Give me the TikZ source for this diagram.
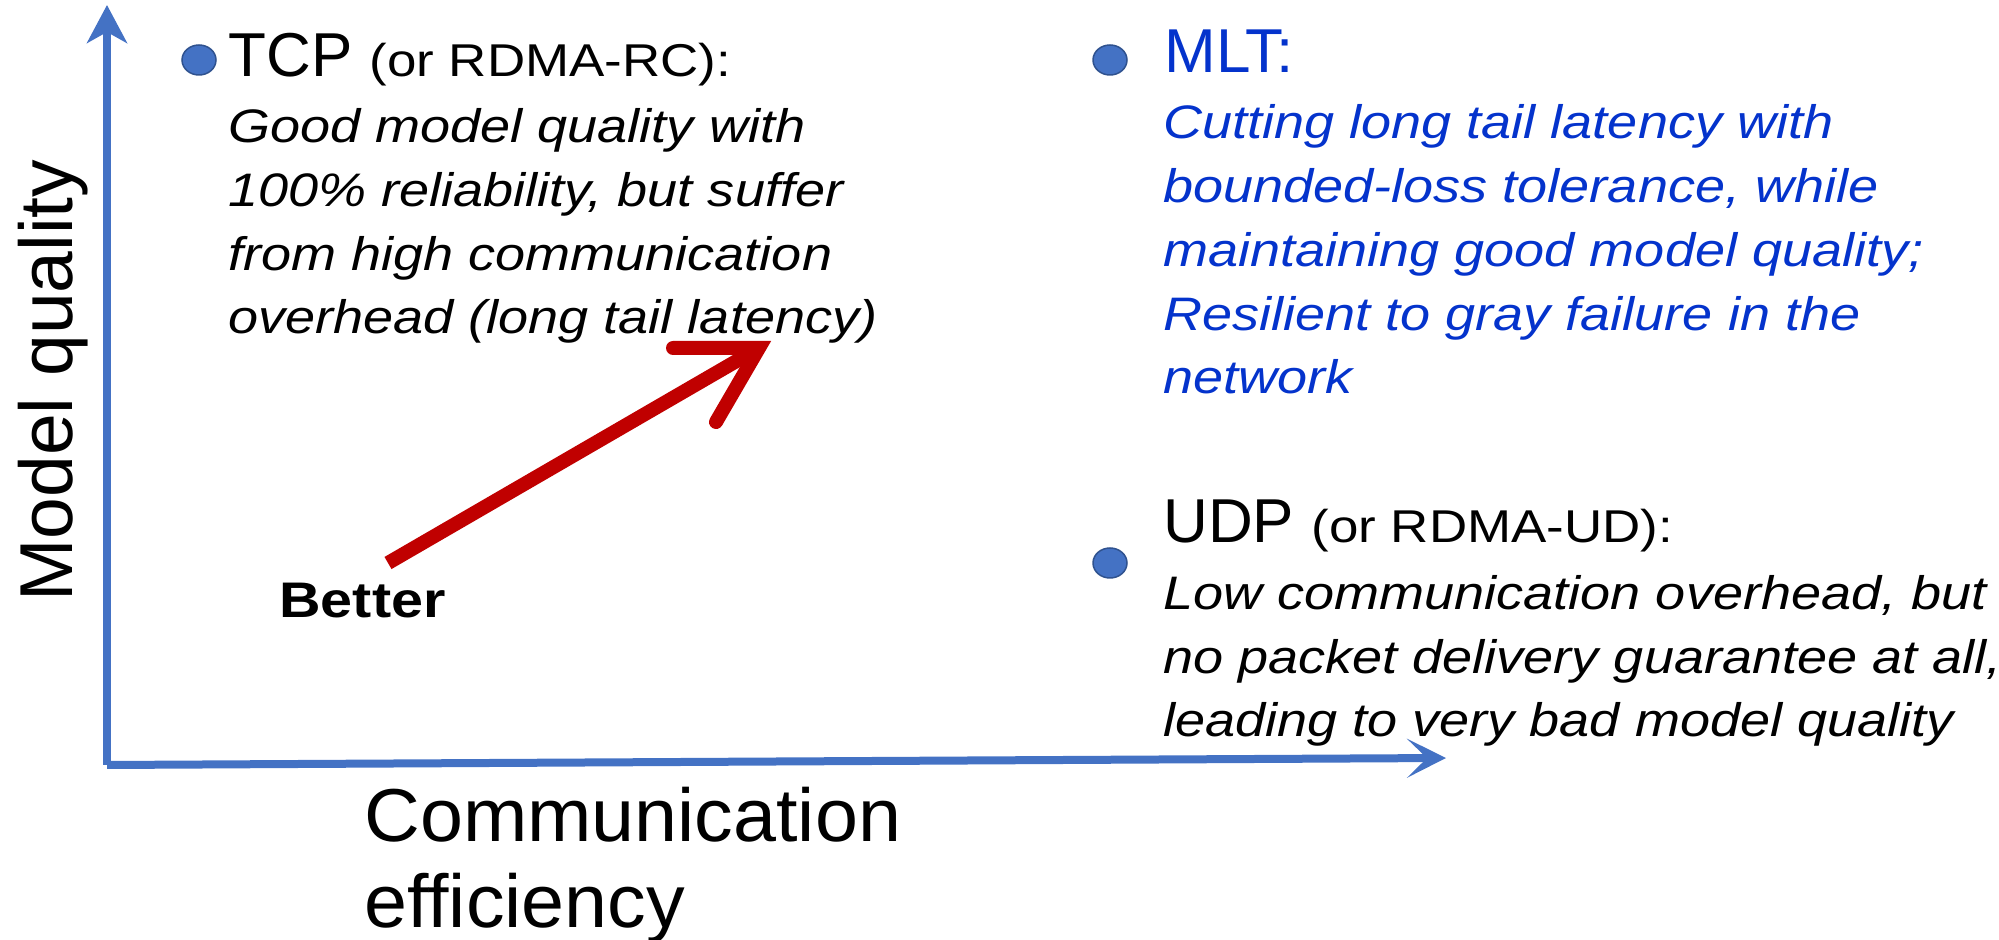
\documentclass[tikz,border=0pt]{standalone}
\usepackage{fontspec}
\setmainfont{Liberation Sans}
\newfontfamily\wideit[FakeStretch=1.15]{Liberation Sans}
\newfontfamily\labfont[FakeStretch=1.03,Ligatures=NoCommon]{Liberation Sans}
\usetikzlibrary{arrows.meta,shapes.geometric}
\definecolor{axisblue}{HTML}{4472C4}
\definecolor{bulletedge}{HTML}{2F528F}
\definecolor{mltblue}{HTML}{0433CC}
\definecolor{arrred}{HTML}{C00000}
\newcommand{\subf}{\wideit\fontsize{23pt}{27pt}\selectfont}
\begin{document}
\begin{tikzpicture}[x=0.5pt,y=-0.5pt,
  axis/.style={line width=4pt, draw=axisblue},
  bulletdot/.style={ellipse, minimum width=17pt, minimum height=15pt, inner sep=0pt,
    fill=axisblue, draw=bulletedge, line width=0.75pt},
  hdr/.style={inner sep=0pt, anchor=base west, font=\fontsize{31pt}{37pt}\selectfont},
  body/.style={inner sep=0pt, anchor=base west, align=left,
    font=\wideit\itshape\fontsize{23.5pt}{31.9pt}\selectfont},
  axlabel/.style={inner sep=0pt, anchor=base west, align=left,
    font=\fontsize{37.5pt}{43.5pt}\selectfont},
  redarrow/.style={line width=7pt, draw=arrred}]
\useasboundingbox (0,0) rectangle (1999,940);

% axes
\coordinate (O) at (107,765);
\coordinate (ytip) at (107,5);
\coordinate (xtip) at (1446,758);
\draw[axis, -{Stealth[length=19pt,width=20pt,inset=5.5pt]}] (O) -- (ytip);
\draw[axis, -{Stealth[length=19.5pt,width=19.5pt,inset=10pt]}] (O) -- (xtip);

% axis labels (multi-line nodes: base = last line)
\node[axlabel, rotate=90] (ylab) at (72,602) {Model quality};
\node[axlabel, font=\labfont\fontsize{37.5pt}{43.5pt}\selectfont] (xlab) at (364,928) {Communication\\efficiency};

% bullets
\node[bulletdot] (b1) at (199,60) {};
\node[bulletdot] (b2) at (1110,60) {};
\node[bulletdot] (b3) at (1110,563) {};

% TCP
\node[hdr] (tcp) at (228,77) {TCP {\subf(or RDMA-RC):}};
\node[body] (tcpbody) at (228,334) {Good model quality with\\100\% reliability, but suffer\\from high communication\\overhead (long tail latency)};

% MLT
\node[hdr, text=mltblue] (mlt) at (1164,73) {MLT:};
\node[body, text=mltblue] (mltbody) at (1163,394) {Cutting long tail latency with\\bounded-loss tolerance, while\\maintaining good model quality;\\Resilient to gray failure in the\\network};

% UDP
\node[hdr] (udp) at (1163,543) {UDP {\subf(or RDMA-UD):}};
\node[body] (udpbody) at (1163,737) {Low communication overhead, but\\no packet delivery guarantee at all,\\leading to very bad model quality};

% better arrow
\coordinate (rt) at (388,563);
\coordinate (rv) at (759,348);
\coordinate (rb1) at (673,348);
\coordinate (rb2) at (716,422);
\draw[redarrow, line cap=butt] (rt) -- (rv);
\draw[redarrow, line cap=round, line join=miter] (rb1) -- (rv) -- (rb2);
\node[inner sep=0pt, anchor=base west, font=\wideit\bfseries\fontsize{25pt}{30pt}\selectfont] (better) at (279,618) {Better};
\end{tikzpicture}
\end{document}
